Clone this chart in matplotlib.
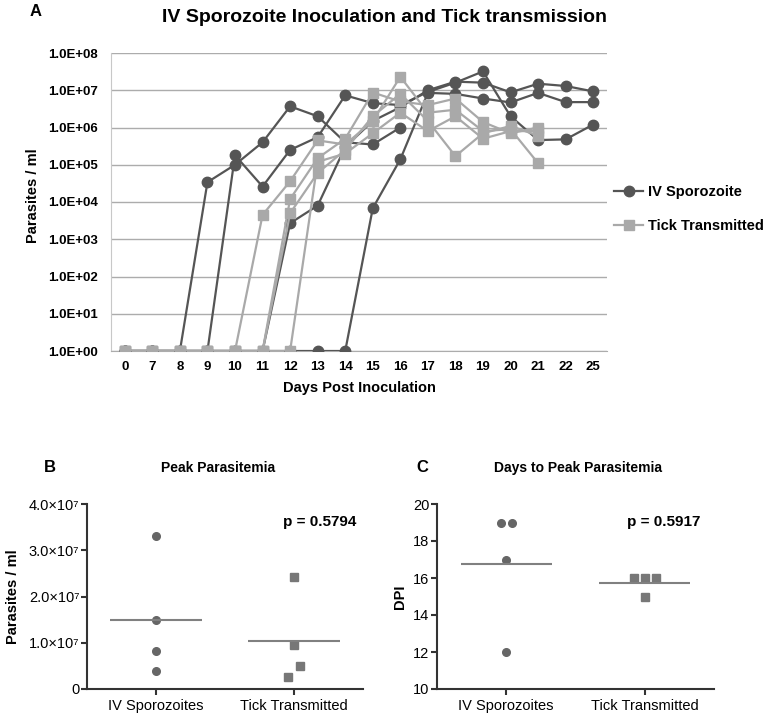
import numpy as np
import matplotlib
matplotlib.use('Agg')
import matplotlib.pyplot as plt
from matplotlib.lines import Line2D
from matplotlib.ticker import NullLocator

plt.rcParams['font.family'] = ['Liberation Sans', 'DejaVu Sans']

nan = np.nan

# -Daten Panel A (Parasiten / ml pro Tier)-------------------------------------------#

days = ['0', '7', '8', '9', '10', '11', '12', '13', '14', '15', '16', '17', '18', '19', '20', '21', '22', '25']

iv_1 = [1, 1, 1, 3.4e4, 1.0e5, 4.0e5, 3.7e6, 2.0e6, 4.0e5, 3.5e5, 1.0e6, nan, nan, nan, nan, nan, nan, nan]
iv_2 = [1, 1, 1, 1, 1.8e5, 2.6e4, 2.5e5, 5.5e5, 7.3e6, 4.5e6, 4.0e6, 9.0e6, 1.6e7, 3.2e7, 2.0e6, 4.6e5, 4.8e5, 1.2e6]
iv_3 = [1, 1, 1, 1, 1, 1, 2.7e3, 8.0e3, 3.0e5, 1.5e6, 3.5e6, 1.0e7, 1.7e7, 1.6e7, 8.8e6, 1.5e7, 1.3e7, 9.3e6]
iv_4 = [1, 1, 1, 1, 1, 1, 1, 1, 1, 6.8e3, 1.4e5, 8.5e6, 8.0e6, 6.0e6, 4.7e6, 8.5e6, 4.8e6, 4.8e6]

tick_1 = [1, 1, 1, 1, 1, 4.5e3, 3.6e4, 4.5e5, 3.5e5, 1.5e6, 2.3e7, 2.5e6, 3.0e6, 8.0e5, 9.0e5, 1.1e5, nan, nan]
tick_2 = [1, 1, 1, 1, 1, 1, 1.2e4, 1.5e5, 5.0e5, 8.7e6, 5.0e6, 4.0e6, 6.0e6, 1.4e6, 7.0e5, 1.0e6, nan, nan]
tick_3 = [1, 1, 1, 1, 1, 1, 5.0e3, 6.0e4, 2.5e5, 2.0e6, 8.0e6, 1.5e6, 1.7e5, 7.0e5, 1.1e6, 6.0e5, nan, nan]
tick_4 = [1, 1, 1, 1, 1, 1, 1, 1.2e5, 2.0e5, 7.0e5, 2.5e6, 8.0e5, 2.0e6, 5.0e5, 8.0e5, 8.0e5, nan, nan]

ylabels_A = ['1.0E+00', '1.0E+01', '1.0E+02', '1.0E+03', '1.0E+04',
             '1.0E+05', '1.0E+06', '1.0E+07', '1.0E+08']

# -Daten Panel B und C---------------------------------------------------------------#

groups = ['IV Sporozoites', 'Tick Transmitted']
peak_iv = [3.3e7, 1.5e7, 8.3e6, 3.8e6]
peak_tick = [2.42e7, 9.5e6, 5.0e6, 2.6e6]
dpi_iv = [19, 19, 17, 12]
dpi_tick = [16, 16, 16, 15]
ylabels_B = ['0', '1.0×10⁷', '2.0×10⁷', '3.0×10⁷', '4.0×10⁷']

# Streuung der Punkte (nur Darstellung)
jit_peak_iv = [0, 0, 0, 0]
jit_peak_tick = [0, 0, 0.04, -0.04]
jit_dpi_iv = [-0.04, 0.04, 0, 0]
jit_dpi_tick = [-0.08, 0, 0.08, 0]

dark = '#555555'
light = '#a9a9a9'
W, H = 770.0, 716.0


def box(l, t, r, b):
    return [l / W, 1 - b / H, (r - l) / W, (b - t) / H]


fig = plt.figure(figsize=(7.7, 7.16), dpi=100)

# -Panel A---------------------------------------------------------------------------#

ax = fig.add_axes(box(111, 53, 607, 351))
x = np.arange(len(days))
for s in [iv_1, iv_2, iv_3, iv_4]:
    ax.plot(x, s, color=dark, lw=1.6, marker='o', ms=7.5, mec=dark, mfc=dark, zorder=3)
for s in [tick_1, tick_2, tick_3, tick_4]:
    ax.plot(x, s, color=light, lw=1.6, marker='s', ms=7.5, mec=light, mfc=light, zorder=4)

ax.set_yscale('log')
ax.set_ylim(1, 1e8)
ax.set_yticks([10.0 ** k for k in range(9)])
ax.set_yticklabels(ylabels_A)
ax.yaxis.set_minor_locator(NullLocator())
ax.set_xlim(-0.5, len(days) - 0.5)
ax.set_xticks(x)
ax.set_xticklabels(days)
ax.tick_params(length=0, labelsize=9.5)
ax.tick_params(axis='y', pad=9.5)
ax.tick_params(axis='x', pad=7)
for lab in ax.get_xticklabels() + ax.get_yticklabels():
    lab.set_fontweight('bold')
ax.yaxis.grid(True, color='#acacac', lw=1)
ax.set_axisbelow(True)
for sp in ['top', 'right']:
    ax.spines[sp].set_visible(False)
ax.spines['left'].set_color('#c8c8c8')
ax.spines['bottom'].set_color('#acacac')
ax.set_xlabel('Days Post Inoculation', fontsize=10.5, fontweight='bold')
ax.xaxis.set_label_coords(0.5, -(388 - 351) / 298.0)
ax.xaxis.label.set_va('center')
ax.set_ylabel('Parasites / ml', fontsize=10.5, fontweight='bold')
ax.yaxis.set_label_coords(-(111 - 33) / 496.0, 0.52)
ax.yaxis.label.set_va('center')

handles = [Line2D([], [], color=dark, lw=1.6, marker='o', ms=7.5, mec=dark),
           Line2D([], [], color=light, lw=1.6, marker='s', ms=7.5, mec=light)]
fig.legend(handles, ['IV Sporozoite', 'Tick Transmitted'], loc='upper left',
           bbox_to_anchor=(614 / W, 1 - 185 / H), frameon=False, borderpad=0,
           borderaxespad=0, handlelength=2.0, handletextpad=0.3, labelspacing=1.4,
           prop={'size': 10.5, 'weight': 'bold'})

fig.text(384 / W, 1 - 18 / H, 'IV Sporozoite Inoculation and Tick transmission',
         ha='center', va='center', fontsize=14, fontweight='bold')
fig.text(36 / W, 1 - 12 / H, 'A', ha='center', va='center', fontsize=12, fontweight='bold')

# -Panel B und C--------------------------------------------------------------------#


def scatter_panel(axb, vals_a, vals_b, jit_a, jit_b):
    axb.plot(np.zeros(len(vals_a)) + jit_a, vals_a, 'o', color='#666666', ms=5.5, mec='#666666', clip_on=False)
    axb.plot(np.ones(len(vals_b)) + jit_b, vals_b, 's', color='#777777', ms=5.3, mec='#777777', clip_on=False)
    axb.hlines(np.mean(vals_a), -0.33, 0.33, color='#808080', lw=1.5)
    axb.hlines(np.mean(vals_b), 0.67, 1.33, color='#808080', lw=1.5)
    axb.set_xlim(-0.5, 1.5)
    axb.set_xticks([0, 1])
    axb.set_xticklabels(groups)
    for sp in ['top', 'right']:
        axb.spines[sp].set_visible(False)
    for sp in ['left', 'bottom']:
        axb.spines[sp].set_linewidth(1.5)
        axb.spines[sp].set_color('#333333')
    axb.tick_params(direction='out', length=4, width=1.5, color='#333333', labelsize=10.5)
    axb.tick_params(axis='y', pad=1.5)
    axb.tick_params(axis='x', pad=3)


axB = fig.add_axes(box(87, 504, 363, 689))
scatter_panel(axB, peak_iv, peak_tick, np.array(jit_peak_iv), np.array(jit_peak_tick))
axB.set_ylim(0, 4e7)
axB.set_yticks([0, 1e7, 2e7, 3e7, 4e7])
axB.set_yticklabels(ylabels_B)
axB.set_ylabel('Parasites / ml', fontsize=10.5, fontweight='bold')
axB.yaxis.set_label_coords((13 - 87) / 276.0, 0.5)
axB.yaxis.label.set_va('center')
axB.text(0.844, 0.903, 'p = 0.5794', transform=axB.transAxes, ha='center', va='center',
         fontsize=11, fontweight='bold')

axC = fig.add_axes(box(437, 504, 714, 689))
scatter_panel(axC, dpi_iv, dpi_tick, np.array(jit_dpi_iv), np.array(jit_dpi_tick))
axC.set_ylim(10, 20)
axC.set_yticks([10, 12, 14, 16, 18, 20])
axC.set_ylabel('DPI', fontsize=10.5, fontweight='bold')
axC.yaxis.set_label_coords((400 - 437) / 277.0, 0.5)
axC.yaxis.label.set_va('center')
axC.text(0.82, 0.903, 'p = 0.5917', transform=axC.transAxes, ha='center', va='center',
         fontsize=11, fontweight='bold')

fig.text(218 / W, 1 - 468 / H, 'Peak Parasitemia', ha='center', va='center', fontsize=10, fontweight='bold')
fig.text(50 / W, 1 - 467 / H, 'B', ha='center', va='center', fontsize=12, fontweight='bold')
fig.text(578 / W, 1 - 468 / H, 'Days to Peak Parasitemia', ha='center', va='center', fontsize=10, fontweight='bold')
fig.text(422 / W, 1 - 467 / H, 'C', ha='center', va='center', fontsize=12, fontweight='bold')

plt.savefig('out.png', dpi=100)
